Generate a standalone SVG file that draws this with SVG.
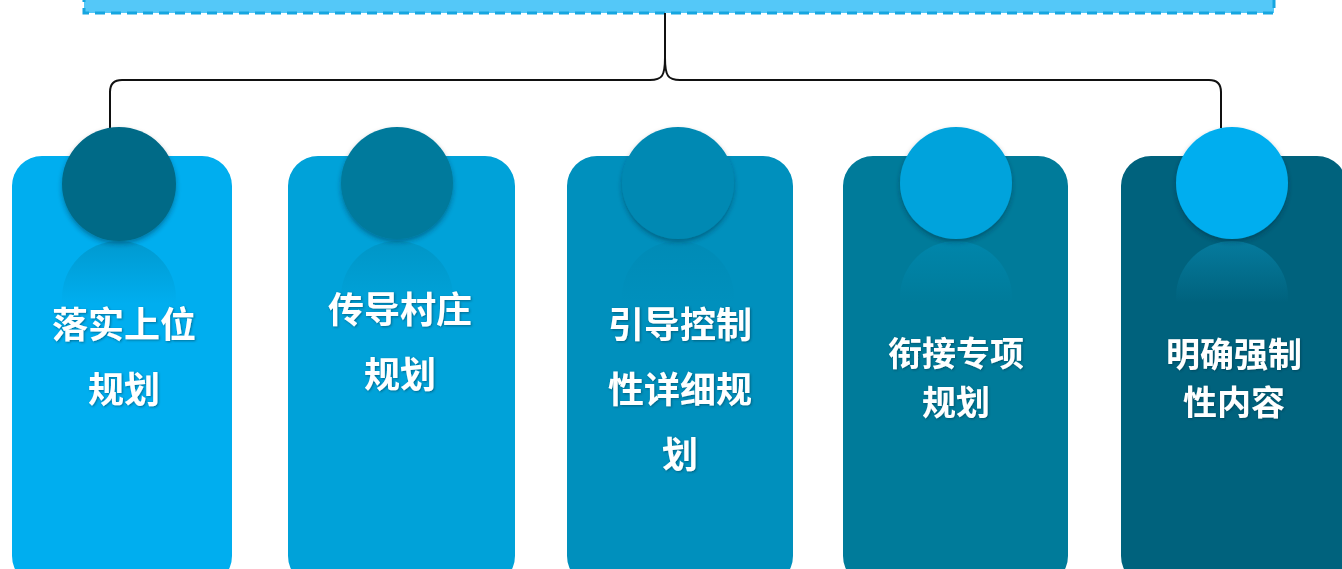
<svg xmlns="http://www.w3.org/2000/svg" width="1342" height="569" viewBox="0 0 1342 569">
<style>
.lbl{font-family:"Noto Sans CJK SC","Microsoft YaHei",sans-serif;font-weight:700;font-size:36px;fill:#ffffff;text-anchor:middle;dominant-baseline:central;filter:url(#ts)}
.tight{font-size:34px}
.conn{fill:none;stroke:#111;stroke-width:2}
</style>
<defs>
<filter id="ds" x="-30%" y="-30%" width="160%" height="170%">
<feDropShadow dx="0" dy="3" stdDeviation="2.5" flood-color="#002a3a" flood-opacity="0.4"/>
</filter>
<filter id="ts" x="-10%" y="-20%" width="120%" height="140%">
<feDropShadow dx="1" dy="1" stdDeviation="0.8" flood-color="#003040" flood-opacity="0.5"/>
</filter>
<linearGradient id="r1" x1="0" y1="0" x2="0" y2="1"><stop offset="0" stop-color="#006a87" stop-opacity="0.3"/><stop offset="0.55" stop-color="#006a87" stop-opacity="0"/></linearGradient>
<linearGradient id="r2" x1="0" y1="0" x2="0" y2="1"><stop offset="0" stop-color="#007a9c" stop-opacity="0.3"/><stop offset="0.55" stop-color="#007a9c" stop-opacity="0"/></linearGradient>
<linearGradient id="r3" x1="0" y1="0" x2="0" y2="1"><stop offset="0" stop-color="#007fa6" stop-opacity="0.3"/><stop offset="0.55" stop-color="#007fa6" stop-opacity="0"/></linearGradient>
<linearGradient id="r4" x1="0" y1="0" x2="0" y2="1"><stop offset="0" stop-color="#0096c4" stop-opacity="0.4"/><stop offset="0.55" stop-color="#0096c4" stop-opacity="0"/></linearGradient>
<linearGradient id="r5" x1="0" y1="0" x2="0" y2="1"><stop offset="0" stop-color="#0a8fb8" stop-opacity="0.55"/><stop offset="0.55" stop-color="#0a8fb8" stop-opacity="0"/></linearGradient>
</defs>
<rect x="0" y="0" width="1342" height="569" fill="#ffffff"/>
<g id="top">
<rect x="84" y="-12" width="1190" height="25" fill="#54c8f8" stroke="#16a6e0" stroke-width="3" stroke-dasharray="10 6"/>
</g>
<g id="connectors">
<path class="conn" d="M665,13 L665,58 C665,76 662,80 650,80 L122,80 Q110,80 110,92 L110,128"/>
<path class="conn" d="M665,58 C665,76 668,80 680,80 L1209,80 Q1221,80 1221,92 L1221,128"/>
</g>
<g id="card1">
<rect x="12" y="156" width="220" height="430" rx="30" fill="#00aeef"/>
<circle cx="119" cy="298" r="57" fill="url(#r1)"/>
<circle cx="119" cy="184" r="57" fill="#006a87" filter="url(#ds)"/>
<text class="lbl" x="124" y="322">落实上位</text>
<text class="lbl" x="124" y="387">规划</text>
</g>
<g id="card2">
<rect x="288" y="156" width="227" height="430" rx="30" fill="#00a2d9"/>
<circle cx="397" cy="297" r="56" fill="url(#r2)"/>
<circle cx="397" cy="183" r="56" fill="#007a9c" filter="url(#ds)"/>
<text class="lbl" x="400" y="307">传导村庄</text>
<text class="lbl" x="400" y="372">规划</text>
</g>
<g id="card3">
<rect x="567" y="156" width="226" height="430" rx="30" fill="#0090bd"/>
<circle cx="678" cy="297" r="56" fill="url(#r3)"/>
<circle cx="678" cy="183" r="56" fill="#0089b3" filter="url(#ds)"/>
<text class="lbl" x="680" y="322">引导控制</text>
<text class="lbl" x="680" y="387">性详细规</text>
<text class="lbl" x="680" y="452">划</text>
</g>
<g id="card4">
<rect x="843" y="156" width="225" height="430" rx="30" fill="#007b9a"/>
<circle cx="956" cy="297" r="56" fill="url(#r4)"/>
<circle cx="956" cy="183" r="56" fill="#00a3dc" filter="url(#ds)"/>
<text class="lbl tight" x="956" y="351">衔接专项</text>
<text class="lbl tight" x="956" y="400">规划</text>
</g>
<g id="card5">
<rect x="1121" y="156" width="226" height="430" rx="30" fill="#00627d"/>
<circle cx="1232" cy="297" r="56" fill="url(#r5)"/>
<circle cx="1232" cy="183" r="56" fill="#00aeef" filter="url(#ds)"/>
<text class="lbl tight" x="1234" y="352">明确强制</text>
<text class="lbl tight" x="1234" y="400">性内容</text>
</g>
</svg>
